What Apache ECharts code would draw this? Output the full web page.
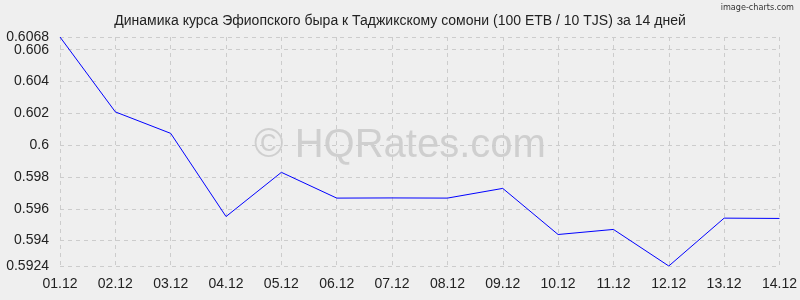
<!DOCTYPE html>
<html><head><meta charset="utf-8">
<script src="https://cdn.jsdelivr.net/npm/echarts@6/dist/echarts.min.js"></script>
<style>html,body{margin:0;padding:0;background:#efefef;}#c{width:800px;height:300px;}</style>
</head><body><div id="c"></div>
<script>
const categories = ["01.12","02.12","03.12","04.12","05.12","06.12","07.12","08.12","09.12","10.12","11.12","12.12","13.12","14.12"];
const rates = [0.6068,0.60209,0.60074,0.59551,0.59829,0.59667,0.59668,0.59667,0.59728,0.59438,0.5947,0.5924,0.59541,0.59539];
const yTicks = [0.5924,0.594,0.596,0.598,0.6,0.602,0.604,0.606,0.6068];
const yLabelsMain = [0.5924,0.594,0.596,0.598,0.6,0.602,0.604,0.606];
const yLabelsTop = [0.6068];
const titleText = "Динамика курса Эфиопского быра к Таджикскому сомони (100 ETB / 10 TJS) за 14 дней";

const lblStyle = {fontFamily:'Liberation Sans, Arial',fontSize:14,color:'#222',margin:11,
  showMinLabel:true,showMaxLabel:true,hideOverlap:false,formatter:v=>String(+(+v).toFixed(4))};

const chart = echarts.init(document.getElementById('c'), null, {renderer:'canvas'});
chart.setOption({
  backgroundColor:'#efefef',
  animation:false,
  title:{text:titleText,left:'center',top:9,textStyle:{fontFamily:'Liberation Sans, Arial',fontSize:14,fontWeight:'normal',color:'#222'}},
  graphic:[
    {type:'text',right:6,top:3,style:{text:'image-charts.com',fontFamily:'DejaVu Sans Condensed, Liberation Sans Narrow',fontSize:9,fill:'#333'}},
    {type:'text',left:'center',top:126,style:{text:'© HQRates.com',fontFamily:'Liberation Sans, Arial',fontSize:40,fill:'rgba(150,150,150,0.35)'},z:0}
  ],
  grid:{left:60,right:20,top:37,bottom:34},
  xAxis:{type:'category',data:categories,boundaryGap:false,
    axisLine:{show:false},axisTick:{show:false},
    axisLabel:{fontFamily:'Liberation Sans, Arial',fontSize:14,color:'#222',margin:11},
    splitLine:{show:true,lineStyle:{type:[4,4],color:'#cccccc'}}},
  yAxis:[
    {type:'value',min:0.5924,max:0.6068,position:'left',
      axisLine:{show:false},
      axisTick:{show:false,customValues:yTicks},
      axisLabel:Object.assign({customValues:yLabelsMain},lblStyle),
      splitLine:{show:true,lineStyle:{type:[4,4],color:'#cccccc'}}},
    {type:'value',min:0.5924,max:0.6068,position:'left',offset:0,
      axisLine:{show:false},
      axisTick:{show:false,customValues:yLabelsTop},
      axisLabel:Object.assign({customValues:yLabelsTop},lblStyle),
      splitLine:{show:false}}
  ],
  series:[{type:'line',data:rates,symbol:'none',lineStyle:{color:'#0000ff',width:1},z:3}]
});
</script></body></html>
